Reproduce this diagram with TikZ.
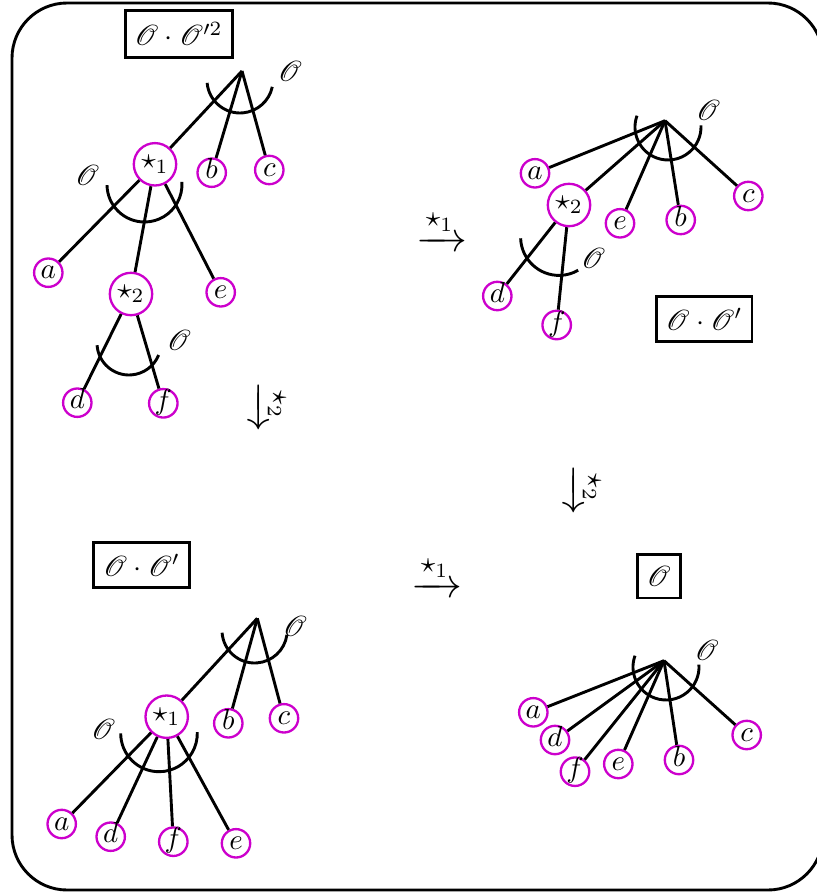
\documentclass[tikz,border=0pt]{standalone}
\usepackage{amsmath,amssymb}
\usepackage{mathrsfs}
\definecolor{mag}{RGB}{204,0,204}
\begin{document}
\begin{tikzpicture}[x=0.345pt,y=0.345pt,
  leaf/.style={circle,draw=mag,line width=0.8pt,minimum size=9.8pt,inner sep=0.3pt,text height=5.5pt,text depth=1.2pt},
  starnode/.style={circle,draw=mag,line width=0.8pt,inner sep=1.2pt},
  edge/.style={line width=1pt},
  arcl/.style={line width=1pt},
  lbl/.style={inner sep=0pt},
  box/.style={draw,line width=1pt,inner xsep=3.3pt,inner ysep=4pt},
  arrowlbl/.style={inner sep=0pt,font=\fontsize{14.5}{17}\selectfont},
  frame/.style={line width=1pt,rounded corners=19pt}]
\useasboundingbox (0,0) rectangle (817,-892);
\draw[frame] (12,-3) rectangle (823,-890);

% ---------- top left ----------
\node[box] (tlbox) at (178.7,-33.8) {$\mathscr{O}\cdot\mathscr{O}'^2$};
\coordinate (tlr) at (242,-71);
\node[starnode] (tls1) at (155,-164.3) {$\star_1$};
\node[leaf] (tlb) at (211.7,-172.7) {$b$};
\node[leaf] (tlc) at (269.3,-170) {$c$};
\node[leaf] (tla) at (48.3,-272.7) {$a$};
\node[starnode] (tls2) at (131,-294) {$\star_2$};
\node[leaf] (tle) at (220.7,-292.3) {$e$};
\node[leaf] (tld) at (77.3,-402.7) {$d$};
\node[leaf] (tlf) at (163.3,-403.3) {$f$};
\node[lbl] (tlo1) at (290,-71.7) {$\mathscr{O}$};
\node[lbl] (tlo2) at (87.3,-175) {$\mathscr{O}$};
\node[lbl] (tlo3) at (179,-340) {$\mathscr{O}$};
\draw[edge] (tlr) -- (tls1);
\draw[edge] (tlr) -- (tlb);
\draw[edge] (tlr) -- (tlc);
\draw[edge] (tls1) -- (tla);
\draw[edge] (tls1) -- (tls2);
\draw[edge] (tls1) -- (tle);
\draw[edge] (tls2) -- (tld);
\draw[edge] (tls2) -- (tlf);
\draw[arcl] (240,-80) ++(185:33) arc[start angle=185,end angle=348,radius=33];
\draw[arcl] (144.5,-184.5) ++(181:37.5) arc[start angle=181,end angle=364,radius=37.5];
\draw[arcl] (129,-343) ++(184:32) arc[start angle=184,end angle=338,radius=32];

% ---------- top right ----------
\node[box] (trbox) at (704.2,-319.2) {$\mathscr{O}\cdot\mathscr{O}'$};
\coordinate (trr) at (665,-120.7);
\node[leaf] (tra) at (535,-173.3) {$a$};
\node[starnode] (trs2) at (569,-205) {$\star_2$};
\node[leaf] (tre) at (620,-223.3) {$e$};
\node[leaf] (trb) at (680.7,-220) {$b$};
\node[leaf] (trc) at (748.3,-196) {$c$};
\node[leaf] (trd) at (497.3,-296) {$d$};
\node[leaf] (trf) at (556.7,-325) {$f$};
\node[lbl] (tro1) at (708.3,-110) {$\mathscr{O}$};
\node[lbl] (tro2) at (593.3,-258.3) {$\mathscr{O}$};
\draw[edge] (trr) -- (tra);
\draw[edge] (trr) -- (trs2);
\draw[edge] (trr) -- (tre);
\draw[edge] (trr) -- (trb);
\draw[edge] (trr) -- (trc);
\draw[edge] (trs2) -- (trd);
\draw[edge] (trs2) -- (trf);
\draw[arcl] (668,-127) ++(160:33) arc[start angle=160,end angle=363,radius=33];
\draw[arcl] (559,-237) ++(182:38.4) arc[start angle=182,end angle=300,radius=38.4];

% ---------- bottom left ----------
\node[box] (blbox) at (141.7,-565.3) {$\mathscr{O}\cdot\mathscr{O}'$};
\coordinate (blr) at (257.3,-618.3);
\node[starnode] (bls1) at (166.7,-716.7) {$\star_1$};
\node[leaf] (blb) at (228.3,-723.3) {$b$};
\node[leaf] (blc) at (284,-718.3) {$c$};
\node[leaf] (bla) at (61.7,-824) {$a$};
\node[leaf] (bld) at (110.7,-836.7) {$d$};
\node[leaf] (blf) at (173.3,-841.7) {$f$};
\node[leaf] (ble) at (236,-843.3) {$e$};
\node[lbl] (blo1) at (295,-626.7) {$\mathscr{O}$};
\node[lbl] (blo2) at (103.3,-729.3) {$\mathscr{O}$};
\draw[edge] (blr) -- (bls1);
\draw[edge] (blr) -- (blb);
\draw[edge] (blr) -- (blc);
\draw[edge] (bls1) -- (bla);
\draw[edge] (bls1) -- (bld);
\draw[edge] (bls1) -- (blf);
\draw[edge] (bls1) -- (ble);
\draw[arcl] (254.6,-630.4) ++(184:32.6) arc[start angle=184,end angle=352,radius=32.6];
\draw[arcl] (159,-733.4) ++(180:38.3) arc[start angle=180,end angle=362,radius=38.3];

% ---------- bottom right ----------
\node[box] (brbox) at (658.7,-576.3) {$\mathscr{O}$};
\coordinate (brr) at (664,-660.7);
\node[leaf] (bra) at (533.3,-712.3) {$a$};
\node[leaf] (brd) at (555,-740) {$d$};
\node[leaf] (brf) at (575,-771.7) {$f$};
\node[leaf] (bre) at (618.3,-764) {$e$};
\node[leaf] (brb) at (679,-760) {$b$};
\node[leaf] (brc) at (746.7,-735) {$c$};
\node[lbl] (bro1) at (706.7,-650) {$\mathscr{O}$};
\draw[edge] (brr) -- (bra);
\draw[edge] (brr) -- (brd);
\draw[edge] (brr) -- (brf);
\draw[edge] (brr) -- (bre);
\draw[edge] (brr) -- (brb);
\draw[edge] (brr) -- (brc);
\draw[arcl] (666,-667) ++(160:33) arc[start angle=160,end angle=364,radius=33];

% ---------- arrows ----------
\node[arrowlbl] (ar1) at (442,-230) {$\xrightarrow{\star_1}$};
\node[arrowlbl] (ar2) at (437,-576) {$\xrightarrow{\star_1}$};
\node[arrowlbl,rotate=-90] (ar3) at (269,-407) {$\xrightarrow{\star_2}$};
\node[arrowlbl,rotate=-90] (ar4) at (584,-490) {$\xrightarrow{\star_2}$};
\end{tikzpicture}
\end{document}
